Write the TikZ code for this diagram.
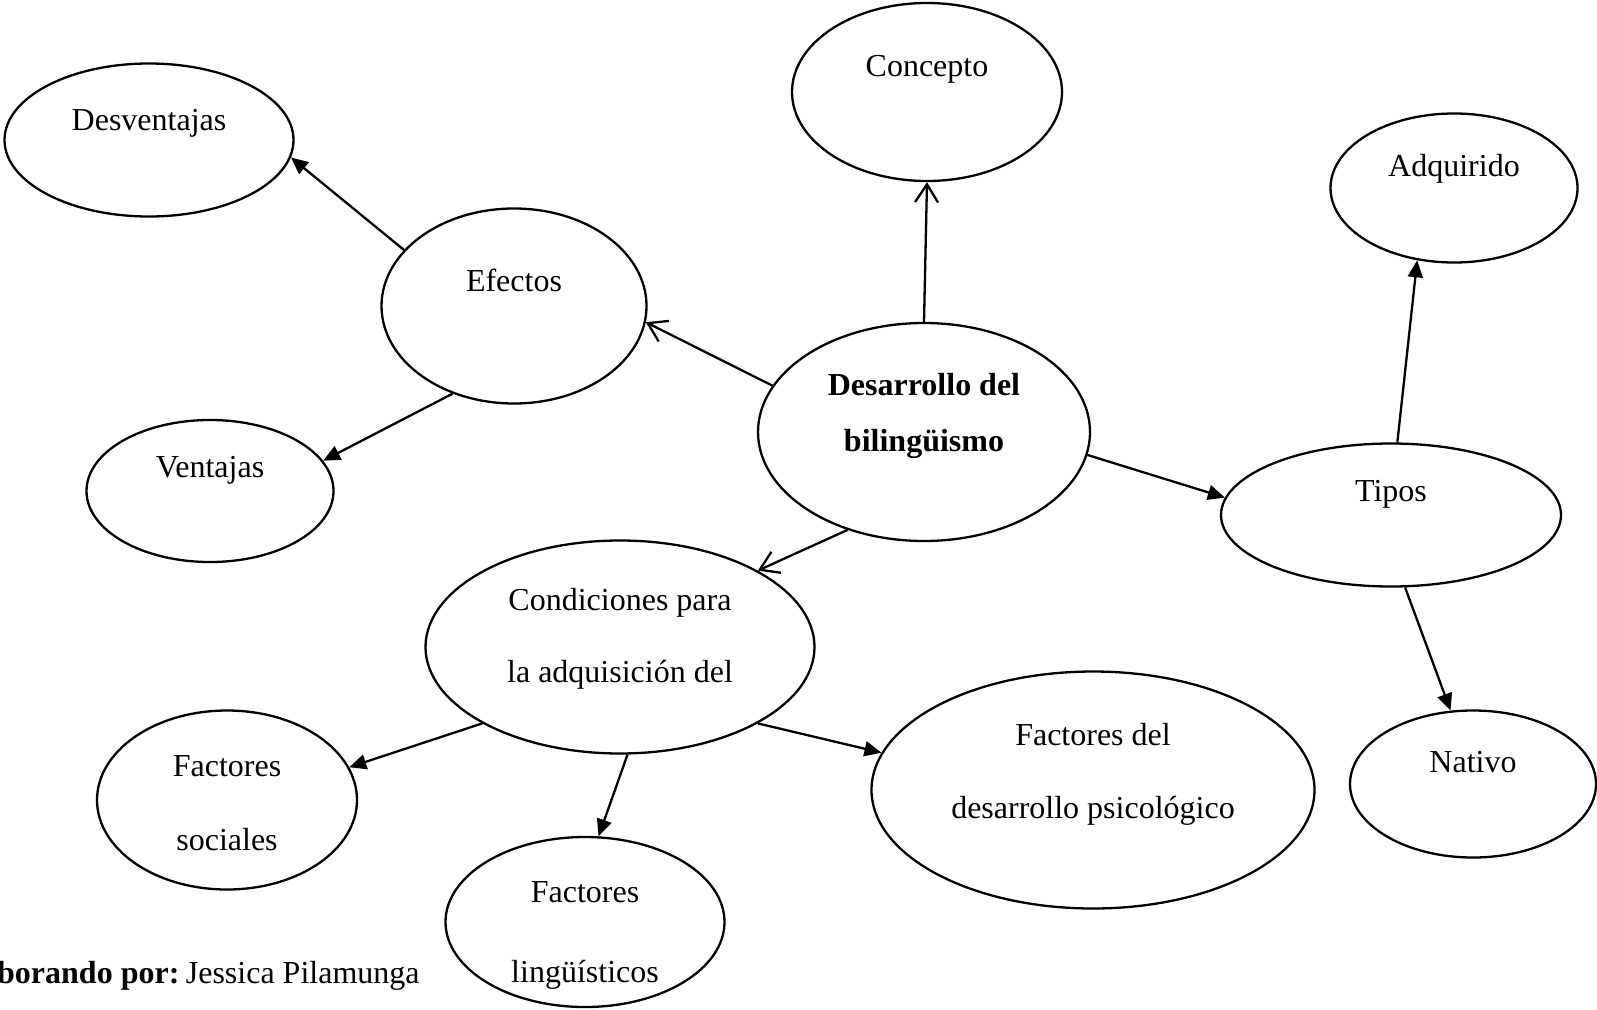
\documentclass[tikz,border=0pt]{standalone}
\usepackage{fontspec}
\setmainfont{Liberation Serif}
\usetikzlibrary{shapes.geometric,arrows.meta}

\begin{document}
\begin{tikzpicture}[x=1pt,y=-1pt,
  bubble/.style 2 args={draw, ellipse, line width=2.3pt, inner sep=0pt,
    minimum width=#1, minimum height=#2},
  txt/.style={font=\fontsize{32}{38}\selectfont, anchor=base, inner sep=0pt},
  link/.style={line width=2.3pt},
  openhead/.style={link, -{Straight Barb[length=18pt,width=23pt]}},
  solidhead/.style={link, -{Triangle[length=17pt,width=15pt]}}
]
\useasboundingbox (0,0) rectangle (1597,1009);
\clip (0,0) rectangle (1597,1009);

% ellipses
\node[bubble={332pt}{218pt}] (D)  at (924,432)  {};
\node[bubble={270pt}{178pt}] (C)  at (927,92)   {};
\node[bubble={265pt}{195pt}] (E)  at (514,306)  {};
\node[bubble={289pt}{153pt}] (Dv) at (149,140)  {};
\node[bubble={247pt}{142pt}] (V)  at (210,491)  {};
\node[bubble={247pt}{149pt}] (A)  at (1454,188) {};
\node[bubble={340pt}{143pt}] (T)  at (1391,515) {};
\node[bubble={246pt}{147pt}] (N)  at (1473,784) {};
\node[bubble={389pt}{213pt}] (Co) at (620,647)  {};
\node[bubble={260pt}{179pt}] (FS) at (227,800)  {};
\node[bubble={279pt}{170pt}] (FL) at (585,922)  {};
\node[bubble={443pt}{237pt}] (FP) at (1093,790) {};

% labels
\node[txt] (tD1) at (924,395) {\bfseries Desarrollo del};
\node[txt] (tD2) at (924,451) {\bfseries biling\"uismo};
\node[txt] (tC)  at (927,76)  {Concepto};
\node[txt] (tE)  at (514,291) {Efectos};
\node[txt] (tDv) at (149,130) {Desventajas};
\node[txt] (tV)  at (210,477) {Ventajas};
\node[txt] (tA)  at (1454,176) {Adquirido};
\node[txt] (tT)  at (1391,501) {Tipos};
\node[txt] (tN)  at (1473,772) {Nativo};
\node[txt] (tCo1) at (620,610) {Condiciones para};
\node[txt] (tCo2) at (620,682) {la adquisici\'on del};
\node[txt] (tFS1) at (227,776) {Factores};
\node[txt] (tFS2) at (227,850) {sociales};
\node[txt] (tFL1) at (585,902) {Factores};
\node[txt] (tFL2) at (585,982) {ling\"u\'isticos};
\node[txt] (tFP1) at (1093,745) {Factores del};
\node[txt] (tFP2) at (1093,818) {desarrollo psicol\'ogico};
\node[txt, anchor=base west] (auth) at (-3,983) {\textbf{borando por:}\hspace{0.2em}Jessica Pilamunga};

% connectors
\draw[openhead]  (D.90)    -- (C.-90);
\draw[openhead]  (D.163)   -- (E.-7);
\draw[openhead]  (D.232.8) -- (Co.29.6);
\draw[solidhead] (D.-8.3)  -- (T.174.7);
\draw[solidhead] (T.85.4)  -- (A.243.1);
\draw[solidhead] (T.281.6) -- (N.107.2);
\draw[solidhead] (E.153.4) -- (Dv.-7.3);
\draw[solidhead] (E.235.9) -- (V.15.5);
\draw[solidhead] (Co.209)  -- (FS.15.6);
\draw[solidhead] (Co.274.2) -- (FL.81.2);
\draw[solidhead] (Co.-29.6) -- (FP.170.9);
\end{tikzpicture}
\end{document}
